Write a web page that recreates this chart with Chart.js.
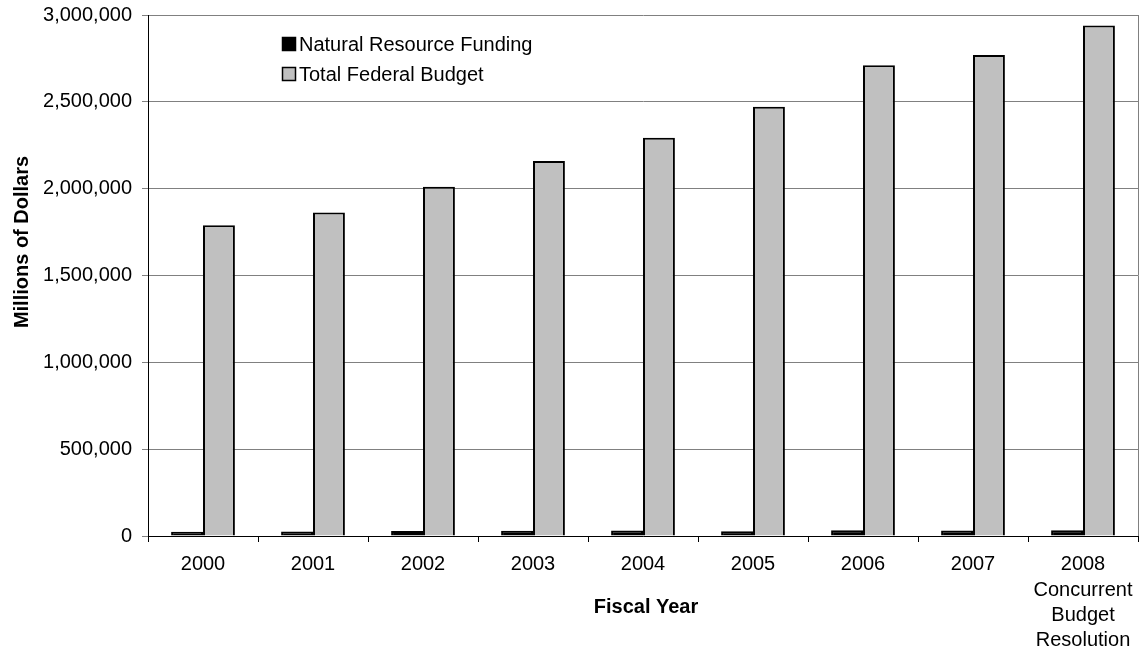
<!DOCTYPE html>
<html>
<head>
<meta charset="utf-8">
<script src="https://cdn.jsdelivr.net/npm/chart.js@4.4.1/dist/chart.umd.min.js"></script>
<style>
html,body{margin:0;padding:0;background:#fff;}
#wrap{width:1140px;height:654px;}
</style>
</head>
<body>
<div id="wrap"><canvas id="c" width="1140" height="654"></canvas></div>
<script>
const categories = [
  ['2000'], ['2001'], ['2002'], ['2003'], ['2004'], ['2005'], ['2006'], ['2007'],
  ['2008', 'Concurrent', 'Budget', 'Resolution']
];
const seriesNames = ['Natural Resource Funding', 'Total Federal Budget'];
const naturalResource = [25000, 26000, 29000, 30000, 31000, 28000, 33000, 32000, 33000];
const totalBudget = [1789000, 1863000, 2011000, 2160000, 2293000, 2472000, 2710000, 2770000, 2940000];
const yMin = 0, yMax = 3000000, yStep = 500000;
const xTitle = 'Fiscal Year';
const yTitle = 'Millions of Dollars';

const FONT = 'Liberation Sans, Arial, Helvetica, sans-serif';
const colors = ['#000000', '#c0c0c0'];

const extras = {
  id: 'extras',
  afterDraw(chart) {
    const ctx = chart.ctx;
    const a = chart.chartArea;
    ctx.save();
    // right border of plot area
    ctx.strokeStyle = '#808080';
    ctx.lineWidth = 1;
    ctx.beginPath();
    ctx.moveTo(Math.round(a.right) + 0.5, a.top);
    ctx.lineTo(Math.round(a.right) + 0.5, a.bottom);
    ctx.stroke();
    // legend
    ctx.font = '20px ' + FONT;
    ctx.textBaseline = 'middle';
    ctx.textAlign = 'left';
    chart.data.datasets.forEach((ds, i) => {
      const cy = 44 + i * 30;
      ctx.fillStyle = ds.backgroundColor;
      ctx.fillRect(282, cy - 7, 14, 14);
      ctx.strokeStyle = '#000';
      ctx.lineWidth = 1.5;
      ctx.strokeRect(282.5, cy - 6.5, 13, 13);
      ctx.fillStyle = '#000';
      ctx.fillText(ds.label, 299, cy + 1);
    });
    // axis titles
    ctx.font = 'bold 20px ' + FONT;
    ctx.textAlign = 'center';
    ctx.fillStyle = '#000';
    ctx.fillText(xTitle, (a.left + a.right) / 2 + 3, 607);
    ctx.translate(22, 242);
    ctx.rotate(-Math.PI / 2);
    ctx.fillText(yTitle, 0, 0);
    ctx.restore();
  }
};

new Chart(document.getElementById('c'), {
  type: 'bar',
  data: {
    labels: categories,
    datasets: [
      { label: seriesNames[0], data: naturalResource, backgroundColor: colors[0], borderColor: '#000', borderWidth: 2 },
      { label: seriesNames[1], data: totalBudget, backgroundColor: colors[1], borderColor: '#000', borderWidth: 2 }
    ]
  },
  options: {
    responsive: false,
    animation: false,
    devicePixelRatio: 1,
    layout: { padding: { top: 15, right: 2, left: 0, bottom: 0 } },
    datasets: { bar: { categoryPercentage: 0.58, barPercentage: 1.0 } },
    plugins: { legend: { display: false }, tooltip: { enabled: false }, title: { display: false } },
    scales: {
      x: {
        afterFit(scale) { scale.height = 118; scale.paddingLeft = 0; scale.paddingRight = 0; },
        grid: { offset: true, drawOnChartArea: false, drawTicks: true, tickLength: 6, color: '#000' },
        border: { color: '#000', width: 1 },
        ticks: {
          autoSkip: false, maxRotation: 0, minRotation: 0, padding: 10,
          color: '#000', font: { family: FONT, size: 20, lineHeight: 1.27 }
        }
      },
      y: {
        min: yMin, max: yMax,
        afterFit(scale) { scale.width = 148; scale.paddingTop = 0; scale.paddingBottom = 0; },
        grid: { color: '#808080', tickLength: 6, tickColor: '#808080' },
        border: { color: '#000', width: 1 },
        ticks: {
          stepSize: yStep, padding: 10, color: '#000',
          font: { family: FONT, size: 20 },
          callback: v => Number(v).toLocaleString('en-US')
        }
      }
    }
  },
  plugins: [extras]
});
</script>
</body>
</html>
